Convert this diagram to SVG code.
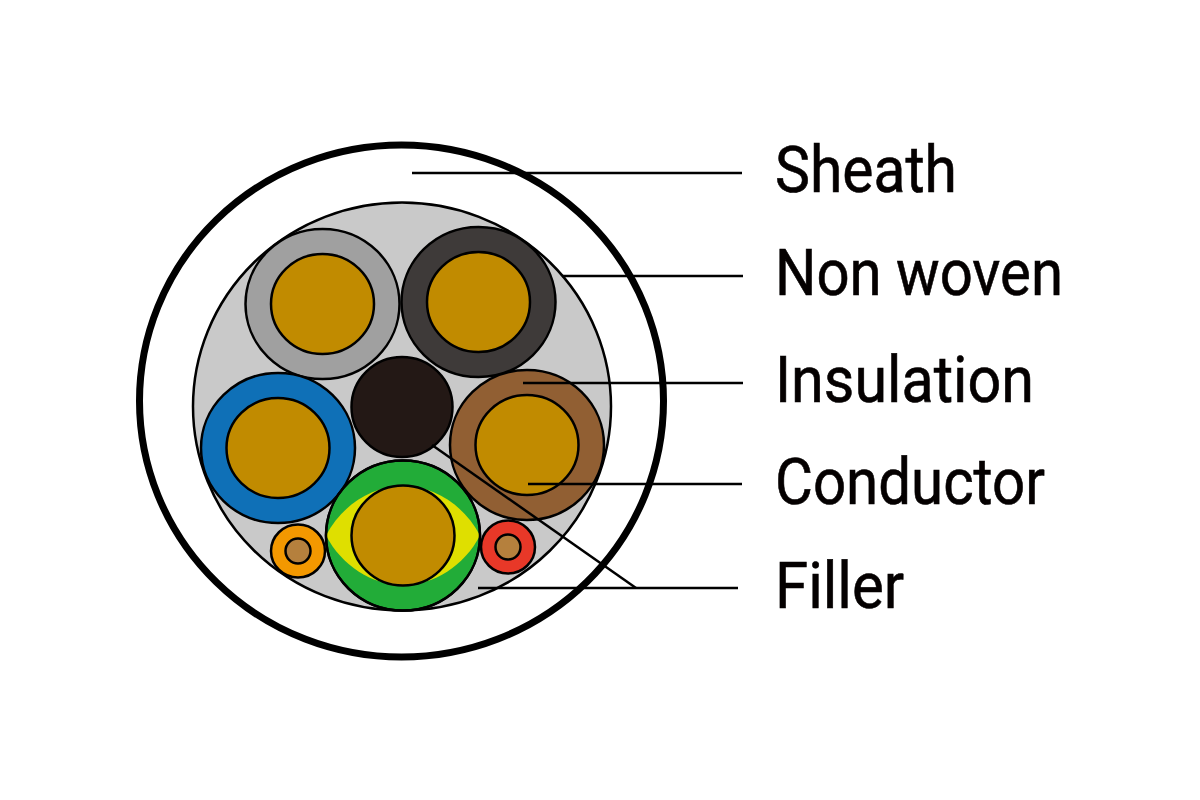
<svg xmlns="http://www.w3.org/2000/svg" width="1200" height="800" viewBox="0 0 1200 800">
<defs><style>
.o{stroke:#000;stroke-width:2.500}
.c{fill:#c18b00;stroke:#000;stroke-width:2.500}
.l{stroke:#000;stroke-width:2.500;fill:none}
text{font-family:"Roboto","Liberation Sans",sans-serif;font-size:65px;fill:#040000;stroke:#040000;stroke-width:.6}
</style></defs>
<rect width="1200" height="800" fill="#fff"/>
<g id="sheath"><ellipse cx="401.500" cy="401" rx="262" ry="256" fill="#fff" stroke="#000" stroke-width="7"/></g>
<g id="nonwoven"><ellipse cx="402" cy="406.500" rx="209" ry="204" fill="#c9c9c9" stroke="#000" stroke-width="2.500"/></g>
<g id="core-grey"><ellipse class="o" cx="322.500" cy="304" rx="77" ry="75" fill="#a0a0a0"/><ellipse class="c" cx="322.500" cy="304" rx="51.500" ry="50"/></g>
<g id="core-black"><ellipse class="o" cx="478.500" cy="302" rx="77" ry="75" fill="#3e3a39"/><ellipse class="c" cx="478.500" cy="302" rx="51.500" ry="50"/></g>
<g id="core-blue"><ellipse class="o" cx="278" cy="448" rx="77" ry="75" fill="#0f70b7"/><ellipse class="c" cx="278" cy="448" rx="51.500" ry="50"/></g>
<g id="core-brown"><ellipse class="o" cx="527" cy="445" rx="77" ry="75" fill="#915f33"/><ellipse class="c" cx="527" cy="445" rx="51.500" ry="50"/></g>
<g id="filler"><ellipse class="o" cx="402" cy="407" rx="50.500" ry="50" fill="#231815"/></g>
<g id="core-earth"><ellipse class="o" cx="403" cy="535.500" rx="77" ry="75" fill="#22ac38"/><path d="M326 535.500C342 505 372 486 403 486C434 486 464 505 480 535.500C464 566 434 585 403 585C372 585 342 566 326 535.500Z" fill="#dfdf00"/><ellipse cx="403" cy="535.500" rx="77" ry="75" fill="none" stroke="#000" stroke-width="2.500"/><ellipse class="c" cx="403" cy="535.500" rx="51.500" ry="50"/></g>
<g id="small-orange"><ellipse class="o" cx="298" cy="551" rx="27" ry="26.500" fill="#f39800"/><ellipse class="o" cx="298" cy="551" rx="12.500" ry="12.500" fill="#b5803d"/></g>
<g id="small-red"><ellipse class="o" cx="508" cy="547" rx="27" ry="26.500" fill="#e83828"/><ellipse class="o" cx="508" cy="547" rx="12.500" ry="12.500" fill="#b5803d"/></g>
<g id="connectors">
<path class="l" d="M412 173H742"/><path class="l" d="M562 276H743"/><path class="l" d="M523 383H743"/><path class="l" d="M528 484H742"/><path class="l" d="M478 588H738"/><path class="l" d="M432 445L636 588"/>
</g>
<g id="labels">
<text x="775" y="192" textLength="182" lengthAdjust="spacingAndGlyphs">Sheath</text>
<text x="775" y="295" textLength="288" lengthAdjust="spacingAndGlyphs">Non woven</text>
<text x="775" y="402" textLength="259" lengthAdjust="spacingAndGlyphs">Insulation</text>
<text x="775" y="504" textLength="270" lengthAdjust="spacingAndGlyphs">Conductor</text>
<text x="775" y="608" textLength="129" lengthAdjust="spacingAndGlyphs">Filler</text>
</g>
</svg>
